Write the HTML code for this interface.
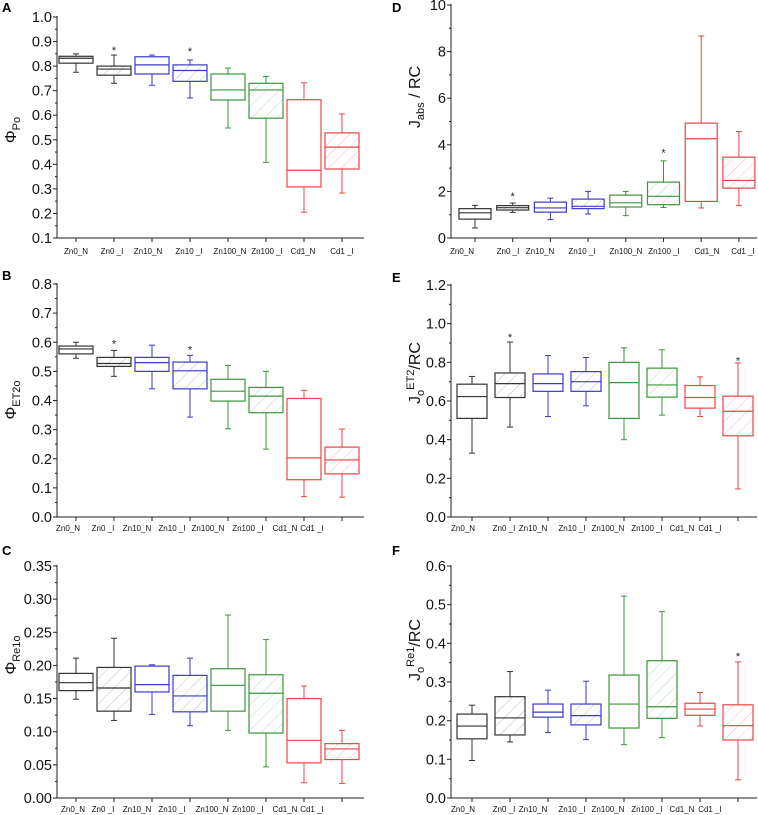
<!DOCTYPE html>
<html><head><meta charset="utf-8">
<style>
html,body{margin:0;padding:0;background:#fff;}
svg{display:block;font-family:"Liberation Sans",Arial,sans-serif;}
</style></head>
<body>
<svg id="fig" width="758" height="815" viewBox="0 0 758 815" xmlns="http://www.w3.org/2000/svg">
<defs>
<pattern id="h-k" patternUnits="userSpaceOnUse" width="9" height="9" patternTransform="rotate(45)"><line x1="0" y1="0" x2="0" y2="9" stroke="#555" stroke-width="0.8" opacity="0.5"/></pattern>
<pattern id="h-b" patternUnits="userSpaceOnUse" width="9" height="9" patternTransform="rotate(45)"><line x1="0" y1="0" x2="0" y2="9" stroke="#4444cc" stroke-width="0.8" opacity="0.45"/></pattern>
<pattern id="h-g" patternUnits="userSpaceOnUse" width="9" height="9" patternTransform="rotate(45)"><line x1="0" y1="0" x2="0" y2="9" stroke="#3a9a3a" stroke-width="0.8" opacity="0.45"/></pattern>
<pattern id="h-r" patternUnits="userSpaceOnUse" width="9" height="9" patternTransform="rotate(45)"><line x1="0" y1="0" x2="0" y2="9" stroke="#e84040" stroke-width="0.8" opacity="0.45"/></pattern>
</defs>
</svg>
<script>
// categories
const categories = ["Zn0_N","Zn0 _I","Zn10_N","Zn10 _I","Zn100_N","Zn100 _I","Cd1_N","Cd1 _I"];
// box stats per panel: [min, q1, median, q3, max]
const statsA = [[0.775,0.812,0.832,0.84,0.85],[0.73,0.763,0.788,0.80,0.845],[0.722,0.768,0.805,0.838,0.845],[0.67,0.738,0.782,0.805,0.825],[0.548,0.662,0.703,0.768,0.792],[0.408,0.588,0.703,0.73,0.758],[0.205,0.308,0.376,0.663,0.732],[0.283,0.381,0.47,0.528,0.605]];
const starsA = [null,0.87,null,0.865,null,null,null,null];
const statsB = [[0.545,0.56,0.577,0.587,0.60],[0.483,0.517,0.527,0.548,0.572],[0.44,0.50,0.53,0.548,0.59],[0.343,0.44,0.502,0.532,0.555],[0.303,0.398,0.432,0.473,0.52],[0.233,0.358,0.415,0.445,0.50],[0.07,0.128,0.203,0.407,0.435],[0.068,0.148,0.196,0.24,0.302]];
const starsB = [null,0.60,null,0.578,null,null,null,null];
const statsC = [[0.149,0.162,0.174,0.188,0.211],[0.117,0.131,0.166,0.197,0.241],[0.126,0.160,0.171,0.199,0.201],[0.109,0.130,0.154,0.185,0.211],[0.102,0.131,0.170,0.195,0.276],[0.047,0.098,0.158,0.186,0.239],[0.023,0.053,0.087,0.150,0.169],[0.022,0.058,0.074,0.082,0.102]];
const starsC = [null,null,null,null,null,null,null,null];
const statsD = [[0.43,0.81,1.08,1.26,1.4],[1.1,1.2,1.3,1.39,1.5],[0.79,1.11,1.29,1.54,1.71],[1.03,1.26,1.36,1.67,2.0],[0.96,1.33,1.51,1.84,2.0],[1.31,1.43,1.79,2.4,3.31],[1.29,1.57,4.26,4.93,8.67],[1.39,2.14,2.47,3.47,4.57]];
const starsD = [null,1.85,null,null,null,3.72,null,null];
const statsE = [[0.33,0.51,0.623,0.687,0.727],[0.465,0.618,0.69,0.745,0.905],[0.52,0.65,0.69,0.74,0.835],[0.575,0.65,0.70,0.752,0.825],[0.40,0.51,0.695,0.80,0.875],[0.527,0.62,0.683,0.77,0.865],[0.52,0.563,0.618,0.68,0.725],[0.145,0.42,0.547,0.625,0.797]];
const starsE = [null,0.935,null,null,null,null,null,0.815];
const statsF = [[0.097,0.153,0.186,0.217,0.24],[0.145,0.163,0.207,0.262,0.327],[0.169,0.209,0.222,0.243,0.279],[0.151,0.189,0.213,0.243,0.302],[0.138,0.181,0.243,0.318,0.522],[0.156,0.206,0.236,0.355,0.482],[0.186,0.214,0.23,0.245,0.273],[0.047,0.15,0.187,0.241,0.352]];
const starsF = [null,null,null,null,null,null,null,0.37];
// tick labels
const ticksA = ["0.1","0.2","0.3","0.4","0.5","0.6","0.7","0.8","0.9","1.0"];
const ticksB = ["0.0","0.1","0.2","0.3","0.4","0.5","0.6","0.7","0.8"];
const ticksC = ["0.00","0.05","0.10","0.15","0.20","0.25","0.30","0.35"];
const ticksD = ["0","2","4","6","8","10"];
const ticksE = ["0.0","0.2","0.4","0.6","0.8","1.0","1.2"];
const ticksF = ["0.0","0.1","0.2","0.3","0.4","0.5","0.6"];

const colors = ["#333333","#333333","#3a3acc","#3a3acc","#3a963a","#3a963a","#e84545","#e84545"];
const hatches = [null,"h-k",null,"h-b",null,"h-g",null,"h-r"];
const NS = "http://www.w3.org/2000/svg";
const svg = document.getElementById("fig");
function mk(tag, attrs, parent){const e=document.createElementNS(NS,tag);for(const k in attrs)e.setAttribute(k,attrs[k]);(parent||svg).appendChild(e);return e;}

function panel(p){
  const g = mk("g",{});
  
  
  const vmin = parseFloat(p.ticks[0]), vmax = parseFloat(p.ticks[p.ticks.length-1]);
  const y = v => p.yBot - (v - vmin)/(vmax - vmin)*(p.yBot - p.yTop);
  const x = i => p.c0 + p.step*i;
  const L = mk("text",{x:p.lx,y:p.ly,"font-size":13,"font-weight":"bold",fill:"#000"},g);
  L.textContent = p.id;
  
  
  const ya = mk("line",{x1:p.ax,y1:p.yTop-1,x2:p.ax,y2:p.yBot,stroke:"#222","stroke-width":1},g);
  
  
  const xa = mk("line",{x1:p.ax,y1:p.yBot,x2:p.xEnd,y2:p.yBot,stroke:"#222","stroke-width":1},g);
  
  
  p.ticks.forEach((t,i)=>{
    const v=parseFloat(t), yy=y(v);
    mk("line",{x1:p.ax-4,y1:yy,x2:p.ax,y2:yy,stroke:"#222"},g);
    const tx = mk("text",{x:p.ax-5,y:yy+5,"font-size":14.5,"text-anchor":"end",fill:"#111"},g);
    tx.textContent=t;
    
    
    if(i<p.ticks.length-1){
      const ym=y((v+parseFloat(p.ticks[i+1]))/2);
      mk("line",{x1:p.ax-2,y1:ym,x2:p.ax,y2:ym,stroke:"#222"},g);
    }
  });
  const tt = mk("text",{transform:`translate(${p.tx},${p.ty}) rotate(-90)`,"font-size":16,"text-anchor":"middle",fill:"#111"},g);
  tt.innerHTML = p.title;
  
  
  p.stats.forEach((s,i)=>{
    const cx=x(i), hw=p.hw, col=colors[i];
    const bg = mk("g",{},g);
    
    
    mk("line",{x1:cx,y1:p.yBot,x2:cx,y2:p.yBot+4,stroke:"#222"},bg);
    mk("line",{x1:cx,y1:y(s[0]),x2:cx,y2:y(s[1]),stroke:col,"stroke-width":1},bg);
    mk("line",{x1:cx,y1:y(s[3]),x2:cx,y2:y(s[4]),stroke:col,"stroke-width":1},bg);
    mk("line",{x1:cx-3,y1:y(s[0]),x2:cx+3,y2:y(s[0]),stroke:col},bg);
    mk("line",{x1:cx-3,y1:y(s[4]),x2:cx+3,y2:y(s[4]),stroke:col},bg);
    mk("rect",{x:cx-hw,y:y(s[3]),width:2*hw,height:Math.max(0.5,y(s[1])-y(s[3])),fill:hatches[i]?`url(#${hatches[i]})`:"#fff",stroke:col,"stroke-width":1.2},bg);
    mk("line",{x1:cx-hw,y1:y(s[2]),x2:cx+hw,y2:y(s[2]),stroke:col,"stroke-width":1.2},bg);
    if(p.stars[i]!==null){
      const st=mk("text",{x:cx,y:y(p.stars[i])+5,"font-size":11,"text-anchor":"middle",fill:"#222"},bg);
      st.textContent="*";
      
      
    }
  });
  categories.forEach((c,i)=>{
    const t=mk("text",{x:p.labX[i],y:p.labY,"font-size":8,"text-anchor":"middle",fill:"#111"},g);
    t.textContent=c;
    
    
  });
}

const labA=[76,112,148,189,230,267,303,342], labB=[68,103,137,172,208,248,285,312];
const labC=[73,103,137,172,212,248,285,312], labD=[462,508,540,582,626,664,707,743];
const labE=[463,504,533,572,608,647,682,710];
panel({id:"A",stats:statsA,stars:starsA,ticks:ticksA,ax:57,yTop:17,yBot:238,c0:76,step:38,hw:17,xEnd:364,labX:labA,labY:254,lx:2,ly:12,tx:16,ty:130,title:'Φ<tspan font-size="11" dy="4">Po</tspan>'});
panel({id:"B",stats:statsB,stars:starsB,ticks:ticksB,ax:57,yTop:284,yBot:517,c0:76,step:38,hw:17,xEnd:364,labX:labB,labY:531,lx:2,ly:280,tx:16,ty:400,title:'Φ<tspan font-size="11" dy="4">ET2o</tspan>'});
panel({id:"C",stats:statsC,stars:starsC,ticks:ticksC,ax:57,yTop:566,yBot:798,c0:76,step:38,hw:17,xEnd:364,labX:labC,labY:812,lx:2,ly:555,tx:16,ty:655,title:'Φ<tspan font-size="11" dy="4">Re1o</tspan>'});
panel({id:"D",stats:statsD,stars:starsD,ticks:ticksD,ax:451,yTop:5,yBot:238,c0:475,step:37.7,hw:16,xEnd:757,labX:labD,labY:254,lx:392,ly:12,tx:420,ty:97,title:'J<tspan font-size="11" dy="4">abs</tspan><tspan dy="-4"> / RC</tspan>'});
panel({id:"E",stats:statsE,stars:starsE,ticks:ticksE,ax:451,yTop:285,yBot:517,c0:472,step:38,hw:15,xEnd:757,labX:labE,labY:531,lx:392,ly:282,tx:420,ty:373,title:'J<tspan font-size="11" dy="4">o</tspan><tspan font-size="11" dy="-10">ET2</tspan><tspan dy="6">/RC</tspan>'});
panel({id:"F",stats:statsF,stars:starsF,ticks:ticksF,ax:451,yTop:566,yBot:798,c0:472,step:38,hw:15,xEnd:757,labX:labE,labY:812,lx:392,ly:555,tx:420,ty:650,title:'J<tspan font-size="11" dy="4">o</tspan><tspan font-size="11" dy="-10">Re1</tspan><tspan dy="6">/RC</tspan>'});
</script>
</body></html>
